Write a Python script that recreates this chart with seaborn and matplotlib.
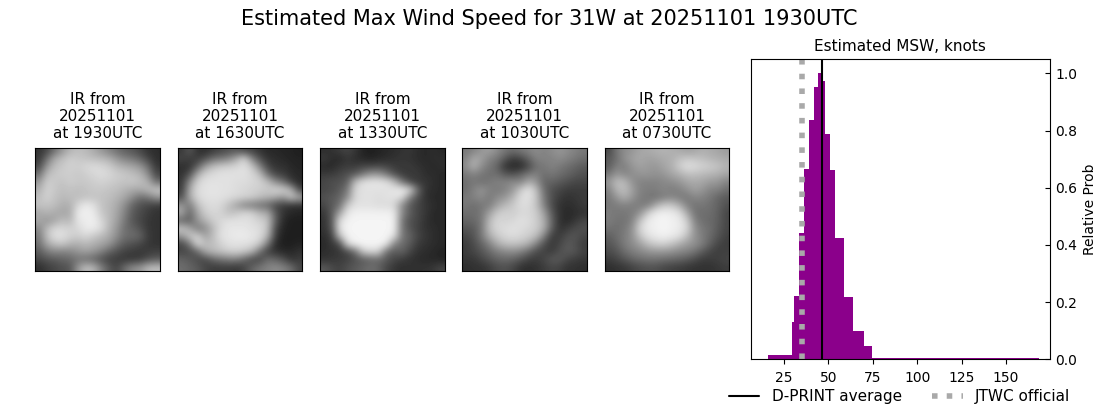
# -*- coding: utf-8 -*-
"""
Estimated max wind speed panel: five IR thumbnails plus D-PRINT histogram
"""
import numpy as np
import matplotlib
matplotlib.use('Agg')
import matplotlib.pyplot as plt
import seaborn as sns

sns.set_style('ticks')
plt.rcParams['text.color'] = 'black'
plt.rcParams['axes.labelcolor'] = 'black'
plt.rcParams['xtick.color'] = 'black'
plt.rcParams['ytick.color'] = 'black'

# histogram
bin_edges = [15.8, 29.3, 30.4, 33.3, 36.1, 38.9, 41.7, 43.9, 46.0, 47.9,
             50.7, 53.5, 58.6, 63.6, 69.8, 74.3, 168.5]
rel_prob = [0.015, 0.13, 0.22, 0.44, 0.665, 0.837, 0.952, 1.0, 0.973, 0.788,
            0.662, 0.424, 0.218, 0.099, 0.047, 0.005]
dprint_avg = 46.1
jtwc_official = 35
x_ticks = [25, 50, 75, 100, 125, 150]
y_ticks = [0.0, 0.2, 0.4, 0.6, 0.8, 1.0]

image_times = ['1930', '1630', '1330', '1030', '0730']
image_date = '20251101'

# coarse brightness of each IR thumbnail (0-255), estimated by eye
ir_1930 = [
    [50, 70, 110, 150, 180, 190, 185, 170, 150, 130, 110, 95, 85, 70, 50, 45],
    [55, 110, 170, 190, 205, 200, 195, 190, 185, 175, 150, 130, 120, 100, 70, 45],
    [70, 150, 190, 200, 210, 205, 215, 220, 215, 205, 185, 175, 165, 150, 110, 55],
    [110, 185, 200, 205, 205, 200, 205, 215, 220, 215, 205, 200, 190, 180, 140, 70],
    [150, 205, 200, 195, 205, 200, 200, 205, 210, 205, 200, 195, 200, 190, 175, 110],
    [175, 210, 200, 190, 195, 190, 195, 200, 200, 195, 190, 180, 170, 170, 185, 200],
    [190, 210, 195, 185, 190, 190, 195, 195, 195, 190, 180, 165, 140, 110, 120, 150],
    [195, 195, 190, 175, 175, 215, 235, 225, 195, 185, 170, 140, 100, 80, 70, 60],
    [165, 180, 170, 165, 170, 235, 240, 235, 200, 185, 165, 130, 90, 75, 60, 50],
    [170, 150, 165, 190, 180, 230, 235, 240, 215, 185, 160, 120, 85, 70, 55, 50],
    [135, 185, 215, 215, 210, 215, 235, 235, 220, 180, 150, 110, 100, 80, 55, 50],
    [120, 190, 225, 225, 210, 205, 215, 200, 185, 170, 140, 110, 110, 100, 60, 50],
    [110, 165, 190, 200, 180, 175, 185, 175, 165, 150, 115, 90, 80, 70, 55, 50],
    [90, 120, 135, 130, 135, 150, 160, 150, 130, 100, 80, 65, 60, 55, 60, 65],
    [70, 85, 90, 100, 105, 115, 110, 100, 80, 65, 60, 55, 55, 60, 80, 90],
    [45, 60, 70, 80, 85, 150, 190, 180, 130, 90, 70, 110, 140, 150, 185, 190],
]
ir_1630 = [
    [55, 90, 50, 45, 60, 70, 80, 85, 70, 65, 50, 40, 40, 35, 35, 30],
    [70, 60, 60, 80, 110, 120, 135, 170, 215, 130, 80, 50, 45, 40, 35, 35],
    [45, 50, 95, 160, 190, 205, 210, 215, 225, 200, 130, 70, 50, 50, 40, 35],
    [50, 80, 170, 210, 220, 225, 225, 225, 225, 215, 190, 110, 70, 60, 45, 40],
    [55, 140, 210, 225, 225, 225, 225, 220, 220, 215, 210, 190, 140, 110, 60, 40],
    [60, 170, 220, 225, 230, 225, 225, 220, 215, 210, 205, 200, 215, 210, 180, 70],
    [80, 170, 215, 225, 225, 225, 220, 215, 210, 205, 190, 180, 170, 150, 200, 170],
    [150, 120, 190, 215, 220, 215, 190, 160, 130, 120, 110, 100, 70, 60, 50, 50],
    [170, 100, 165, 205, 215, 210, 190, 200, 215, 210, 180, 170, 90, 50, 40, 35],
    [100, 95, 150, 180, 205, 215, 225, 225, 225, 220, 210, 195, 95, 40, 30, 30],
    [200, 170, 120, 140, 185, 220, 230, 230, 230, 225, 220, 195, 70, 35, 30, 30],
    [150, 200, 210, 160, 190, 225, 230, 235, 235, 230, 220, 180, 60, 30, 30, 30],
    [70, 120, 220, 190, 190, 210, 225, 225, 225, 220, 200, 120, 40, 30, 30, 35],
    [70, 75, 100, 170, 185, 195, 205, 210, 200, 180, 110, 60, 50, 40, 40, 50],
    [100, 90, 75, 70, 100, 115, 125, 125, 100, 70, 70, 110, 100, 80, 50, 60],
    [110, 100, 90, 70, 60, 60, 60, 55, 70, 100, 120, 130, 140, 130, 110, 70],
]
ir_1330 = [
    [45, 50, 60, 70, 55, 35, 30, 35, 40, 45, 50, 55, 45, 40, 45, 40],
    [60, 45, 40, 55, 45, 40, 35, 40, 45, 50, 55, 50, 45, 40, 45, 45],
    [40, 40, 55, 60, 60, 70, 70, 75, 70, 60, 55, 60, 50, 45, 40, 45],
    [60, 60, 70, 80, 90, 120, 150, 150, 120, 80, 60, 55, 60, 45, 45, 40],
    [70, 80, 80, 95, 190, 225, 230, 230, 225, 190, 120, 70, 55, 55, 45, 40],
    [70, 75, 90, 120, 215, 225, 225, 225, 225, 230, 240, 220, 110, 50, 45, 40],
    [80, 90, 100, 140, 215, 225, 225, 220, 225, 225, 220, 130, 80, 50, 40, 40],
    [70, 90, 110, 200, 225, 225, 225, 220, 220, 215, 140, 90, 70, 55, 45, 40],
    [55, 90, 160, 230, 240, 240, 240, 240, 240, 235, 140, 95, 70, 55, 40, 40],
    [50, 85, 220, 240, 245, 245, 245, 245, 245, 240, 120, 80, 70, 50, 40, 40],
    [50, 80, 225, 245, 245, 245, 245, 245, 245, 240, 120, 85, 65, 50, 45, 40],
    [45, 60, 190, 240, 245, 245, 245, 245, 245, 225, 120, 100, 70, 55, 45, 40],
    [40, 55, 70, 215, 240, 245, 245, 245, 235, 130, 110, 90, 60, 50, 45, 40],
    [45, 50, 55, 70, 110, 200, 215, 210, 110, 90, 100, 70, 50, 45, 40, 35],
    [50, 55, 60, 65, 80, 90, 100, 105, 90, 70, 60, 50, 45, 40, 40, 35],
    [90, 75, 65, 80, 90, 100, 110, 100, 70, 55, 45, 50, 50, 50, 55, 70],
]
ir_1030 = [
    [120, 130, 150, 160, 140, 120, 110, 120, 130, 140, 130, 140, 150, 140, 130, 120],
    [130, 170, 160, 130, 120, 90, 60, 70, 100, 130, 130, 130, 140, 130, 120, 110],
    [140, 180, 140, 120, 100, 50, 40, 40, 70, 110, 120, 130, 120, 110, 100, 90],
    [120, 130, 120, 110, 110, 90, 80, 100, 120, 130, 110, 120, 110, 100, 90, 80],
    [110, 120, 110, 120, 130, 130, 140, 130, 170, 150, 100, 100, 90, 80, 70, 70],
    [110, 130, 150, 130, 120, 130, 150, 200, 230, 190, 110, 80, 70, 60, 60, 60],
    [120, 130, 140, 120, 140, 150, 180, 220, 225, 200, 120, 80, 60, 50, 55, 60],
    [120, 110, 120, 125, 160, 185, 200, 220, 220, 195, 130, 75, 50, 45, 50, 60],
    [110, 110, 120, 160, 200, 210, 205, 215, 215, 205, 160, 90, 50, 40, 45, 50],
    [100, 105, 120, 185, 215, 210, 215, 225, 220, 205, 175, 100, 50, 40, 55, 70],
    [85, 90, 120, 190, 215, 220, 225, 220, 215, 205, 175, 95, 50, 60, 75, 80],
    [70, 85, 120, 170, 200, 215, 220, 215, 205, 190, 130, 60, 60, 80, 85, 70],
    [60, 75, 100, 130, 170, 190, 195, 190, 175, 130, 80, 55, 70, 90, 80, 60],
    [60, 70, 85, 105, 125, 135, 140, 130, 105, 75, 65, 60, 80, 90, 85, 65],
    [55, 55, 70, 85, 100, 105, 100, 85, 65, 60, 70, 90, 90, 70, 60, 55],
    [45, 50, 50, 60, 75, 80, 70, 50, 45, 50, 60, 70, 65, 50, 50, 45],
]
ir_0730 = [
    [70, 120, 140, 150, 165, 170, 175, 180, 175, 170, 160, 165, 175, 170, 165, 155],
    [90, 110, 145, 160, 170, 160, 165, 170, 175, 190, 200, 195, 190, 180, 175, 170],
    [90, 130, 125, 150, 160, 155, 150, 165, 175, 205, 225, 220, 210, 205, 195, 180],
    [120, 150, 135, 140, 150, 150, 145, 150, 165, 175, 190, 190, 185, 180, 175, 165],
    [150, 190, 185, 145, 130, 130, 130, 135, 140, 150, 165, 170, 165, 155, 150, 130],
    [130, 180, 190, 160, 130, 125, 125, 135, 125, 130, 145, 160, 150, 130, 130, 110],
    [120, 150, 175, 150, 125, 120, 115, 125, 135, 125, 120, 135, 130, 120, 100, 90],
    [120, 125, 130, 125, 125, 125, 170, 200, 200, 175, 130, 115, 120, 110, 100, 80],
    [125, 120, 120, 125, 145, 205, 235, 240, 235, 225, 170, 115, 110, 110, 95, 70],
    [125, 115, 115, 130, 195, 235, 240, 245, 240, 235, 205, 130, 110, 105, 95, 70],
    [115, 110, 120, 145, 215, 235, 240, 245, 240, 235, 215, 145, 120, 110, 90, 70],
    [95, 110, 125, 145, 195, 225, 235, 240, 235, 225, 190, 145, 125, 105, 85, 65],
    [85, 100, 125, 140, 160, 190, 205, 210, 195, 175, 155, 145, 125, 95, 70, 60],
    [75, 85, 110, 125, 135, 145, 150, 150, 145, 135, 130, 115, 90, 70, 60, 65],
    [60, 70, 85, 100, 110, 115, 115, 110, 105, 100, 90, 75, 60, 60, 65, 70],
    [45, 50, 55, 65, 75, 80, 80, 70, 65, 60, 55, 50, 50, 50, 55, 60],
]
ir_images = [ir_1930, ir_1630, ir_1330, ir_1030, ir_0730]

W, H = 1100, 409
fig = plt.figure(figsize=(W / 100, H / 100), dpi=100)
fig.suptitle('Estimated Max Wind Speed for 31W at 20251101 1930UTC',
             fontsize=15, x=0.4995, y=0.977)


def add_axes_px(left, top, right, bottom):
    # pixel box from the top left corner of the figure
    return fig.add_axes([left / W, 1 - bottom / H, (right - left) / W, (bottom - top) / H])


# thumbnails
image_lefts = [35, 177.7, 320, 462, 604.7]
for left, grid, hhmm in zip(image_lefts, ir_images, image_times):
    ax = add_axes_px(left, 147.5, left + 124.7, 271)
    ax.imshow(np.array(grid), cmap='gray', vmin=0, vmax=255, aspect='auto',
              interpolation='bicubic')
    ax.set_xticks([])
    ax.set_yticks([])
    for spine in ax.spines.values():
        spine.set_visible(True)
        spine.set_color('black')
        spine.set_linewidth(0.8)
    ax.set_title(f'IR from\n{image_date}\nat {hhmm}UTC', fontsize=11, pad=6.5)

# histogram
ax = add_axes_px(750.5, 59, 1050, 359.3)
edges = np.array(bin_edges)
sns.histplot(x=(edges[:-1] + edges[1:]) / 2, weights=rel_prob, bins=bin_edges,
             color='darkmagenta', alpha=1, linewidth=0, ax=ax)
line_avg = ax.axvline(dprint_avg, color='black', lw=1.5, label='D-PRINT average')
line_jtwc = ax.axvline(jtwc_official, color='darkgrey', lw=4, ls=':', label='JTWC official')
ax.set_xlim(6.1, 174.8)
ax.set_ylim(0, 1.05)
ax.set_xticks(x_ticks)
ax.set_yticks(y_ticks)
ax.yaxis.tick_right()
ax.yaxis.set_label_position('right')
ax.set_ylabel('Relative Prob', fontsize=10)
ax.set_title('Estimated MSW, knots', fontsize=11, pad=6)
ax.tick_params(axis='x', labelsize=10, length=3.5, width=0.8, direction='out', pad=5)
ax.tick_params(axis='y', labelsize=10, length=3.5, width=0.8, direction='in', pad=4)
for spine in ax.spines.values():
    spine.set_visible(True)
    spine.set_color('black')
    spine.set_linewidth(0.8)

fig.legend(handles=[line_avg, line_jtwc], loc='center', ncol=2, frameon=False,
           fontsize=11, bbox_to_anchor=(899.5 / W, 1 - 397 / H))

fig.savefig('out.png', dpi=100)
